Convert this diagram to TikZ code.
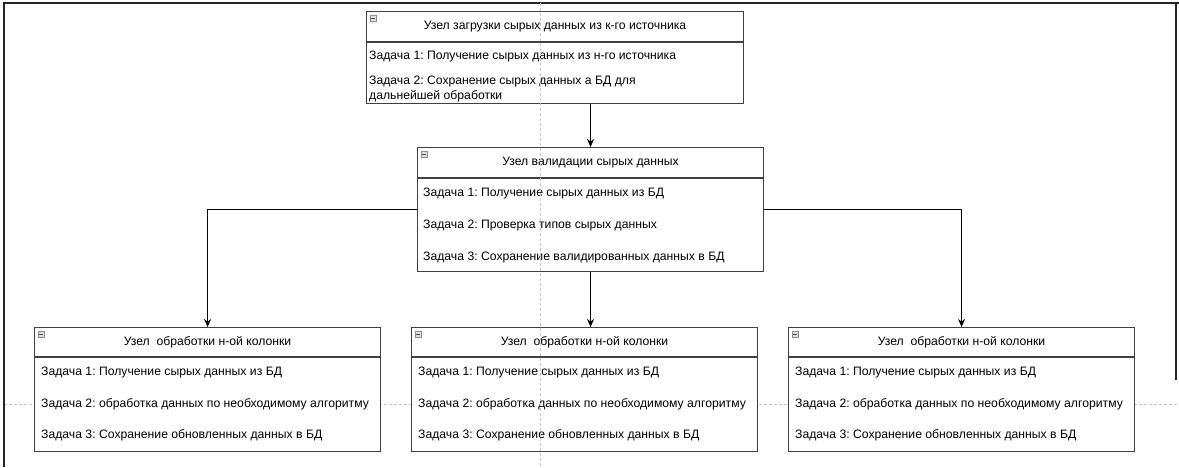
\documentclass[tikz,border=0pt]{standalone}
\usepackage{fontspec}
\setmainfont{Liberation Sans}
\usetikzlibrary{arrows.meta}
\frenchspacing

\begin{document}
\begin{tikzpicture}[x=1pt, y=-1pt,
    font=\fontsize{12.2}{15}\selectfont,
    card/.style={draw=black!75, line width=1.1pt, fill=white, inner sep=0pt, anchor=north west},
    task/.style={anchor=west, inner sep=0pt, align=left},
    minusbox/.style={draw=black!45, fill=black!12, minimum size=6.5pt, inner sep=0pt,
        path picture={\draw[black!70, line width=0.8pt] ([xshift=1.2pt]path picture bounding box.west) -- ([xshift=-1.2pt]path picture bounding box.east);}},
    guide/.style={draw=black!22, dash pattern=on 3pt off 2pt, line width=0.6pt},
    link/.style={draw=black, line width=1pt, -{Stealth[length=8pt,width=7pt]}}]
  \useasboundingbox (0,0) rectangle (1179,467);
  % frame and page guides
  \draw[guide] (4,404) -- (1179,404);
  \draw[black!85, line width=2pt] (1179,3) -- (4,3) -- (4,467);
  \draw[black!85, line width=1.5pt] (1176,3) -- (1176,380);
  % load node
  \node[card, minimum width=377pt, minimum height=92pt] (load) at (366,11) {};
  \draw[black!75, line width=1.1pt] ([yshift=-31pt]load.north west) -- ([yshift=-31pt]load.north east);
  \node[minusbox] at ([xshift=7pt,yshift=-7pt]load.north west) {};
  \node at ([yshift=-15.5pt]load.north) {Узел загрузки сырых данных из к-го источника};
  \node[task] at (369,57) {Задача 1: Получение сырых данных из н-го источника};
  \node[task] at (369,89.5) {Задача 2: Сохранение сырых данных а БД для\\дальнейшей обработки};
  % validation node
  \node[card, minimum width=346pt, minimum height=124pt] (valid) at (417,147) {};
  \draw[black!75, line width=1.1pt] ([yshift=-31pt]valid.north west) -- ([yshift=-31pt]valid.north east);
  \node[minusbox] at ([xshift=7pt,yshift=-7pt]valid.north west) {};
  \node at ([yshift=-15.5pt]valid.north) {Узел валидации сырых данных};
  \node[task] at (423,194) {Задача 1: Получение сырых данных из БД};
  \node[task] at (423,225) {Задача 2: Проверка типов сырых данных};
  \node[task] at (423,257) {Задача 3: Сохранение валидированных данных в БД};
  % column nodes
  \foreach \n/\x in {1/34, 2/411, 3/788} {
    \node[card, minimum width=346pt, minimum height=124pt] (col\n) at (\x,327) {};
    \draw[black!75, line width=1.1pt] ([yshift=-30pt]col\n.north west) -- ([yshift=-30pt]col\n.north east);
    \node[minusbox] at ([xshift=7pt,yshift=-7pt]col\n.north west) {};
    \node at ([yshift=-15pt]col\n.north) {Узел\ \ обработки н-ой колонки};
    \node[task] at (\x+7,373) {Задача 1: Получение сырых данных из БД};
    \node[task] at (\x+7,404) {Задача 2: обработка данных по необходимому алгоритму};
    \node[task] at (\x+7,435) {Задача 3: Сохранение обновленных данных в БД};
  }
  \draw[guide] (540,3) -- (540,467);
  % links
  \draw[link] (load.south -| valid.north) -- (valid.north);
  \draw[link] (valid.west) -| (col1.north);
  \draw[link] (valid.south) -- (col2.north -| valid.south);
  \draw[link] (valid.east) -| (col3.north);
\end{tikzpicture}
\end{document}
